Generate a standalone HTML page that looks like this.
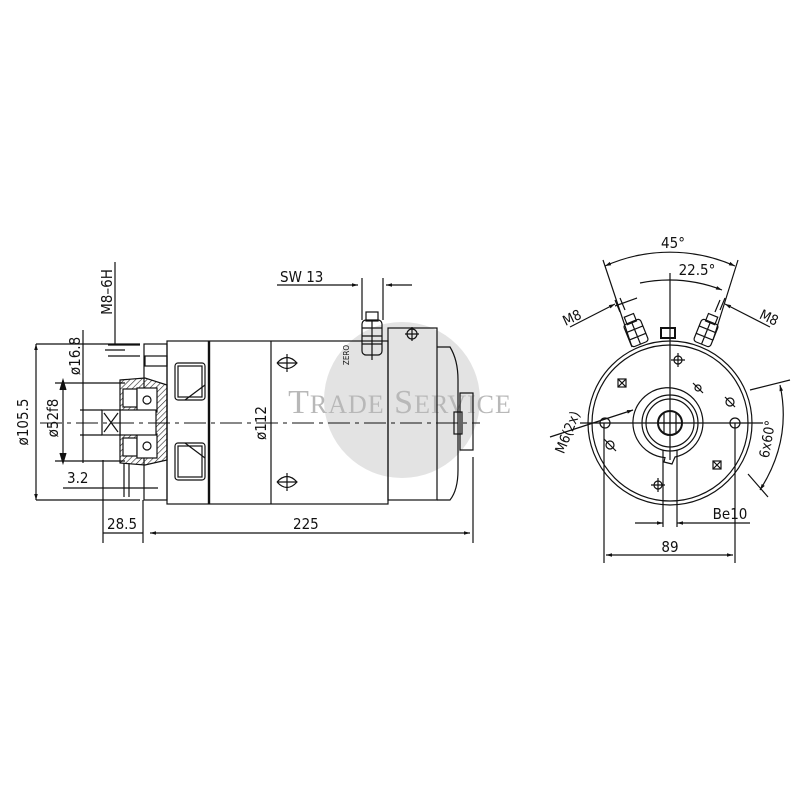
<!DOCTYPE html>
<html><head><meta charset="utf-8"><style>
html,body{margin:0;padding:0;background:#fff;}
svg{display:block;}
text{font-family:"DejaVu Sans Condensed","Liberation Sans",sans-serif;fill:#111;}
</style></head><body>
<svg width="800" height="800" viewBox="0 0 800 800" xmlns="http://www.w3.org/2000/svg">
<defs>
<pattern id="h" width="4" height="4" patternUnits="userSpaceOnUse" patternTransform="rotate(45)"><line x1="0" y1="0" x2="0" y2="4" stroke="#222" stroke-width="1.2"/></pattern>
<marker id="a" viewBox="0 0 10 10" refX="10" refY="5" markerWidth="7" markerHeight="5" orient="auto-start-reverse"><path d="M0,2L10,5L0,8z" fill="#111"/></marker>
</defs>
<circle cx="402" cy="400" r="78" fill="#e3e3e3"/>
<text x="400" y="413" text-anchor="middle" style="font-family:'Liberation Serif',serif;font-size:34px;fill:#b8b8b8;letter-spacing:1px">T<tspan font-size="26">RADE</tspan> S<tspan font-size="26">ERVICE</tspan></text>

<g stroke="#111" stroke-width="1.2" fill="none">
<rect x="144" y="344" width="23" height="156"/>
<rect x="145" y="356" width="22" height="10"/>
<rect x="167" y="341" width="221" height="163"/>
<line x1="209" y1="341" x2="209" y2="504" stroke-width="2.4"/>
<line x1="271" y1="341" x2="271" y2="504"/>
<rect x="388" y="328" width="49" height="172"/>
<path d="M437,347 L450,347 Q458,360 458,380 L458,470 Q458,490 450,500 L437,500"/>
<rect x="460" y="393" width="13" height="57"/>
<rect x="454" y="412" width="8" height="22"/>
<rect x="175" y="363" width="30" height="37" rx="3"/>
<rect x="178" y="366" width="24" height="31"/>
<line x1="185" y1="400" x2="205" y2="385"/>
<rect x="175" y="443" width="30" height="37" rx="3"/>
<rect x="178" y="446" width="24" height="31"/>
<line x1="185" y1="443" x2="205" y2="458"/>
<path d="M120,380 L145,378 L167,385 L167,460 L145,465 L120,463 Z" fill="url(#h)"/>
<rect x="123" y="389" width="14" height="18" fill="#fff"/>
<rect x="123" y="438" width="14" height="18" fill="#fff"/>
<rect x="137" y="388" width="20" height="24" fill="#fff"/>
<rect x="137" y="434" width="20" height="24" fill="#fff"/>
<circle cx="147" cy="400" r="4"/><circle cx="147" cy="446" r="4"/>
<rect x="120" y="410" width="36" height="25" fill="#fff"/>
<rect x="102" y="410" width="18" height="25" fill="#fff"/>
<path d="M104,413 L118,432 M118,413 L104,432"/>
<line x1="40" y1="423" x2="480" y2="423" stroke-dasharray="22,5,4,5" stroke-width="1"/>
<rect x="362" y="320" width="20" height="35" rx="4"/>
<path d="M362,328 L382,328 M362,336 L382,336 M362,344 L382,344 M372,320 V355"/>
<rect x="366" y="312" width="12" height="9"/>
<line x1="372" y1="355" x2="372" y2="360"/>
<path d="M277,363 Q287,352 297,363 Q287,374 277,363 M287,354 V372 M278,363 H296"/>
<path d="M277,482 Q287,471 297,482 Q287,493 277,482 M287,473 V491 M278,482 H296"/>
<circle cx="412" cy="334" r="5"/><path d="M405,334 H419 M412,327 V341"/>

<path d="M36,344 H140 M36,500 H140"/>
<line x1="36" y1="344" x2="36" y2="500" marker-start="url(#a)" marker-end="url(#a)"/>
<path d="M55,383 H125 M55,461 H125"/>
<line x1="63" y1="390" x2="63" y2="453"/>
<path d="M60,390 L63,380 L66,390 M60,453 L63,463 L66,453" fill="#111"/>
<path d="M80,410 H102 M80,435 H102"/>
<line x1="83" y1="330" x2="83" y2="463"/>
<line x1="115" y1="262" x2="115" y2="345"/>
<path d="M108,345 H140 M108,356 H140 M105,350 H125"/>
<line x1="63" y1="488" x2="158" y2="488"/>
<path d="M124,463 V497 M129,463 V497"/>
<path d="M103,460 V543 M143,500 V543 M473,457 V543"/>
<line x1="103" y1="533" x2="143" y2="533"/>
<line x1="150" y1="533" x2="470" y2="533" marker-start="url(#a)" marker-end="url(#a)"/>
<line x1="277" y1="285" x2="358" y2="285" marker-end="url(#a)"/>
<line x1="412" y1="285" x2="386" y2="285" marker-end="url(#a)"/>
<path d="M362,278 V320 M383,278 V320"/>
</g>
<text x="280" y="282" font-size="15">SW 13</text>
<text x="67" y="483" font-size="15">3.2</text>
<text x="107" y="529" font-size="15">28.5</text>
<text x="293" y="529" font-size="15">225</text>
<text transform="translate(28,422) rotate(-90)" text-anchor="middle" font-size="15">ø105.5</text>
<text transform="translate(58,418) rotate(-90)" text-anchor="middle" font-size="15">ø52f8</text>
<text transform="translate(80,356) rotate(-90)" text-anchor="middle" font-size="15">ø16.8</text>
<text transform="translate(112,292) rotate(-90)" text-anchor="middle" font-size="15">M8–6H</text>
<text transform="translate(266,423) rotate(-90)" text-anchor="middle" font-size="15">ø112</text>
<text transform="translate(349,355) rotate(-90)" text-anchor="middle" font-size="8">ZERO</text>

<g stroke="#111" stroke-width="1.2" fill="none">
<circle cx="670" cy="423" r="82"/>
<circle cx="670" cy="423" r="78"/>
<path d="M675,457 A35,35 0 1 0 665,457.6 L664,462 L672,464 Z"/>
<circle cx="670" cy="423" r="28"/>
<circle cx="670" cy="423" r="24"/>
<circle cx="670" cy="423" r="12" stroke-width="2"/>
<path d="M664,412 V434 M676,412 V434 M659,423 H681"/>
<line x1="580" y1="423" x2="763" y2="423"/>
<line x1="670" y1="273" x2="670" y2="460"/>
<circle cx="605" cy="423" r="5"/><circle cx="735" cy="423" r="5"/>
<circle cx="678" cy="360" r="4"/><path d="M671,360 H685 M678,353 V367"/>
<circle cx="698" cy="388" r="3"/><line x1="693" y1="383" x2="703" y2="393"/>
<circle cx="730" cy="402" r="4"/><line x1="725" y1="397" x2="735" y2="407"/>
<circle cx="610" cy="445" r="4"/><line x1="604" y1="439" x2="616" y2="451"/>
<circle cx="658" cy="485" r="4"/><path d="M651,485 H665 M658,478 V492"/>
<rect x="618" y="379" width="8" height="8"/><path d="M618,379 L626,387 M626,379 L618,387"/>
<rect x="713" y="461" width="8" height="8"/><path d="M713,461 L721,469 M721,461 L713,469"/>
<g transform="translate(636,333) rotate(-22)"><rect x="-9" y="-12" width="18" height="24" rx="3"/><path d="M-9,-4 H9 M-9,4 H9 M0,-12 V12"/><rect x="-5" y="-19" width="10" height="8"/></g>
<g transform="translate(706,333) rotate(22)"><rect x="-9" y="-12" width="18" height="24" rx="3"/><path d="M-9,-4 H9 M-9,4 H9 M0,-12 V12"/><rect x="-5" y="-19" width="10" height="8"/></g>
<rect x="661" y="328" width="14" height="10" stroke-width="2"/>
<path d="M603,260 L632,347 M738,260 L713,340"/>
<path d="M605,266 A160,160 0 0 1 735,266" marker-start="url(#a)" marker-end="url(#a)"/>
<path d="M640,283 A143,143 0 0 1 670,280"/>
<path d="M670,280 A143,143 0 0 1 722,290" marker-end="url(#a)"/>
<path d="M570,327 L615,304" marker-end="url(#a)"/>
<path d="M637,298 L615,306"/>
<path d="M770,327 L725,304" marker-end="url(#a)"/>
<path d="M615,300 L620,312 M620,298 L625,310 M725,298 L720,310 M720,300 L715,312"/>
<path d="M550,437 L633,410" marker-end="url(#a)"/>
<path d="M750,390 L790,380 M748,474 L768,497"/>
<path d="M780,385 Q792,440 760,490" marker-start="url(#a)" marker-end="url(#a)"/>
<path d="M663,450 V527 M677,450 V527"/>
<line x1="635" y1="523" x2="663" y2="523" marker-end="url(#a)"/>
<line x1="750" y1="523" x2="677" y2="523" marker-end="url(#a)"/>
<path d="M604,423 V563 M735,423 V563"/>
<line x1="606" y1="555" x2="733" y2="555" marker-start="url(#a)" marker-end="url(#a)"/>
</g>
<text x="673" y="248" text-anchor="middle" font-size="15">45°</text>
<text x="697" y="275" text-anchor="middle" font-size="15">22.5°</text>
<text transform="translate(574,322) rotate(-25)" text-anchor="middle" font-size="14">M8</text>
<text transform="translate(767,322) rotate(25)" text-anchor="middle" font-size="14">M8</text>
<text transform="translate(572,434) rotate(-68)" text-anchor="middle" font-size="14">M6(2x)</text>
<text transform="translate(772,440) rotate(-80)" text-anchor="middle" font-size="14">6x60°</text>
<text x="730" y="519" text-anchor="middle" font-size="15">Be10</text>
<text x="670" y="552" text-anchor="middle" font-size="15">89</text>
</svg>
</body></html>
